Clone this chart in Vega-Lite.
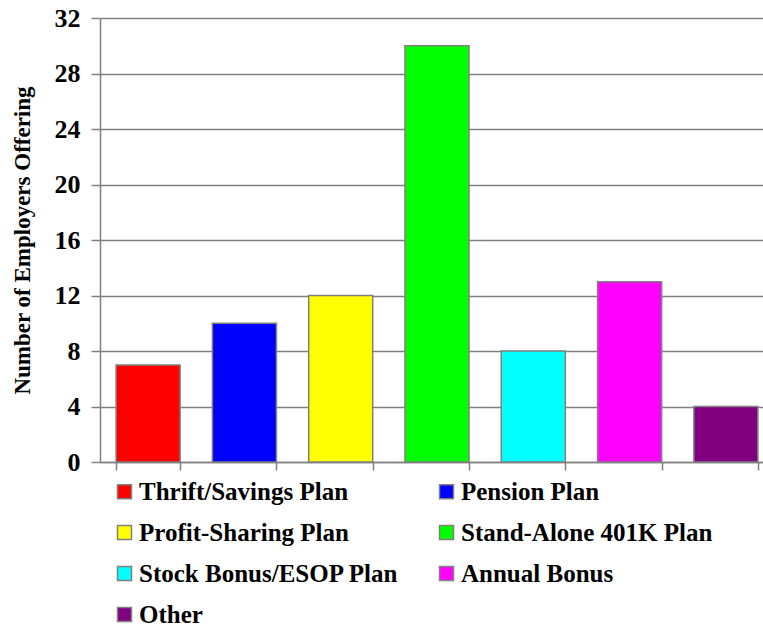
{
  "$schema": "https://vega.github.io/schema/vega-lite/v6.json",
  "autosize": "none",
  "width": 663,
  "height": 444,
  "padding": {"left": 100, "top": 18, "right": 0, "bottom": 171},
  "background": "white",
  "config": {
    "view": {"stroke": null},
    "font": "Liberation Serif"
  },
  "data": {
    "values": [
      {"plan": "Thrift/Savings Plan", "employers": 7},
      {"plan": "Pension Plan", "employers": 10},
      {"plan": "Profit-Sharing Plan", "employers": 12},
      {"plan": "Stand-Alone 401K Plan", "employers": 30},
      {"plan": "Stock Bonus/ESOP Plan", "employers": 8},
      {"plan": "Annual Bonus", "employers": 13},
      {"plan": "Other", "employers": 4}
    ]
  },
  "mark": {"type": "bar", "stroke": "#808080", "strokeWidth": 1.5},
  "encoding": {
    "x": {
      "field": "plan",
      "type": "nominal",
      "sort": null,
      "scale": {"range": [0, 674], "paddingInner": 0.335, "paddingOuter": 0.167},
      "axis": {
        "title": null,
        "labels": false,
        "ticks": true,
        "tickBand": "extent",
        "tickSize": 8,
        "tickColor": "#808080",
        "tickWidth": 1.5,
        "domainColor": "#808080",
        "domainWidth": 1.5
      }
    },
    "y": {
      "field": "employers",
      "type": "quantitative",
      "scale": {"domain": [0, 32], "nice": false},
      "axis": {
        "values": [0, 4, 8, 12, 16, 20, 24, 28, 32],
        "title": "Number of Employers Offering",
        "titleFont": "Liberation Serif",
        "titleFontSize": 23,
        "titleFontWeight": "bold",
        "titleColor": "black",
        "titlePadding": 20,
        "labelFont": "Liberation Serif",
        "labelFontSize": 26,
        "labelFontWeight": "bold",
        "labelColor": "black",
        "labelPadding": 11,
        "tickSize": 9,
        "tickColor": "#808080",
        "tickWidth": 1.5,
        "domainColor": "#808080",
        "domainWidth": 1.5,
        "grid": true,
        "gridColor": "#808080",
        "gridWidth": 1.5
      }
    },
    "color": {
      "field": "plan",
      "type": "nominal",
      "scale": {
        "domain": ["Thrift/Savings Plan", "Pension Plan", "Profit-Sharing Plan", "Stand-Alone 401K Plan", "Stock Bonus/ESOP Plan", "Annual Bonus", "Other"],
        "range": ["#ff0000", "#0000ff", "#ffff00", "#00ff00", "#00ffff", "#ff00ff", "#800080"]
      },
      "legend": {
        "title": null,
        "orient": "none",
        "direction": "horizontal",
        "legendX": 12,
        "legendY": 461,
        "padding": 0,
        "columns": 2,
        "symbolType": "square",
        "symbolSize": 196,
        "symbolStrokeColor": "#808080",
        "symbolStrokeWidth": 1.5,
        "symbolOpacity": 1,
        "labelFont": "Liberation Serif",
        "labelFontSize": 25,
        "labelFontWeight": "bold",
        "labelColor": "black",
        "labelOffset": 2,
        "labelLimit": 400,
        "rowPadding": 15,
        "columnPadding": 35
      }
    }
  }
}
